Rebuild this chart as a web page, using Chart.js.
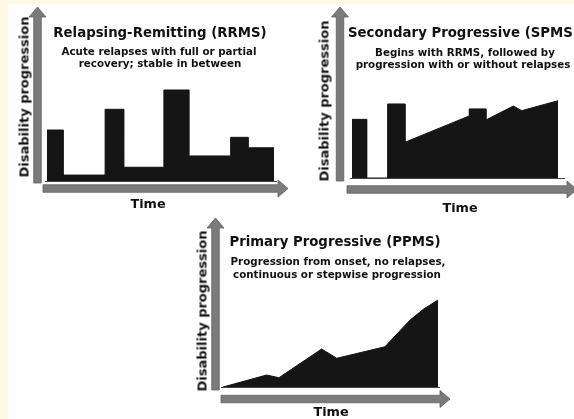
<!DOCTYPE html>
<html>
<head>
<meta charset="utf-8">
<script src="https://cdn.jsdelivr.net/npm/chart.js@4"></script>
<style>
  body { margin: 0; width: 574px; height: 419px; overflow: hidden; background: #fdf9e3; position: relative; font-family: "DejaVu Sans", Verdana, sans-serif; font-weight: bold; color: #111; }
  #paper { position: absolute; left: 8px; top: 4px; right: 0; bottom: 0; background: #fff; }
  canvas { position: absolute; left: 0; top: 0; }
  .t { position: absolute; white-space: nowrap; line-height: 1; transform: translate(-50%, -50%); }
  .title { font-size: 13.3px; }
  .sub { font-size: 10.3px; }
  .axis { font-size: 12.8px; }
  .ylab { font-size: 13px; transform: translate(-50%, -50%) rotate(-90deg); }
</style>
</head>
<body>
<div id="paper"></div>
<canvas id="rrms" width="574" height="419"></canvas>
<canvas id="spms" width="574" height="419"></canvas>
<canvas id="ppms" width="574" height="419"></canvas>

<!-- Relapsing-Remitting -->
<div class="t title" style="left:160px;top:33px">Relapsing-Remitting (RRMS)</div>
<div class="t sub" style="left:159px;top:51px">Acute relapses with full or partial</div>
<div class="t sub" style="left:160px;top:63px">recovery; stable in between</div>
<div class="t axis" style="left:148px;top:204px">Time</div>
<div class="t ylab" style="left:24px;top:97px">Disability progression</div>

<!-- Secondary Progressive -->
<div class="t title" style="left:348px;top:33px;transform:translate(0,-50%)">Secondary Progressive (SPMS)</div>
<div class="t sub" style="left:465px;top:52px">Begins with RRMS, followed by</div>
<div class="t sub" style="left:463px;top:64px">progression with or without relapses</div>
<div class="t axis" style="left:460px;top:208px">Time</div>
<div class="t ylab" style="left:324px;top:101px">Disability progression</div>

<!-- Primary Progressive -->
<div class="t title" style="left:335px;top:242px">Primary Progressive (PPMS)</div>
<div class="t sub" style="left:338px;top:261px">Progression from onset, no relapses,</div>
<div class="t sub" style="left:337px;top:274px">continuous or stepwise progression</div>
<div class="t axis" style="left:331px;top:412px">Time</div>
<div class="t ylab" style="left:202px;top:311px">Disability progression</div>

<script>
// Disability level over time (0-100 scale)
const rrmsTime  = [0, 7.2, 25.6, 33.9, 51.5, 62.6, 80.9, 88.7, 100];
const rrmsLevel = [29.3, 3.4, 41.2, 7.9, 52.3, 14.4, 25.1, 19.1, 19.1];

const spmsTime  = [0, 7.1, 7.1, 17.3, 17.3, 25.7, 25.7, 56.9, 56.9, 65.0, 65.0, 78.3, 82.4, 100];
const spmsLevel = [34.3, 34.3, 0, 0, 43.3, 43.3, 20.9, 36.3, 40.4, 40.4, 33.9, 42.1, 39.4, 45.2];

const ppmsTime  = [0, 20.3, 26, 45.9, 52.9, 75.3, 87, 93.2, 100];
const ppmsLevel = [0, 7.1, 5.5, 22.5, 17.0, 23.8, 39.6, 46, 51.5];

const FILL = "#151515";
const ARROW = "#7b7b7b";

// gray axis arrows drawn around the chart area
const arrowPlugin = {
  id: "arrows",
  beforeDatasetsDraw(chart, args, o) {
    const { ctx, chartArea: a } = chart;
    const w = 7.5, head = 8.5, len = 10;
    ctx.save();
    ctx.fillStyle = ARROW;
    ctx.strokeStyle = "#5f5f5f";
    ctx.lineWidth = 0.8;

    // y arrow
    const yx = a.left - o.yGap;
    ctx.beginPath();
    ctx.moveTo(yx - w / 2, a.bottom + o.yEnd);
    ctx.lineTo(yx - w / 2, a.top + len);
    ctx.lineTo(yx - head, a.top + len);
    ctx.lineTo(yx, a.top);
    ctx.lineTo(yx + head, a.top + len);
    ctx.lineTo(yx + w / 2, a.top + len);
    ctx.lineTo(yx + w / 2, a.bottom + o.yEnd);
    ctx.closePath();
    ctx.fill();
    ctx.stroke();

    // x arrow
    const xy = a.bottom + o.xGap;
    const tip = a.right + o.xTip;
    ctx.beginPath();
    ctx.moveTo(a.left - o.xStart, xy - w / 2);
    ctx.lineTo(tip - len, xy - w / 2);
    ctx.lineTo(tip - len, xy - head);
    ctx.lineTo(tip, xy);
    ctx.lineTo(tip - len, xy + head);
    ctx.lineTo(tip - len, xy + w / 2);
    ctx.lineTo(a.left - o.xStart, xy + w / 2);
    ctx.closePath();
    ctx.fill();
    ctx.stroke();

    // thin baseline
    ctx.strokeStyle = "#444";
    ctx.lineWidth = 1;
    ctx.beginPath();
    ctx.moveTo(a.left - 2, a.bottom + 0.5);
    ctx.lineTo(a.right + o.baseExt, a.bottom + 0.5);
    ctx.stroke();
    ctx.restore();
  }
};

function makeChart(id, times, levels, area, arrows, stepped) {
  const points = times.map((t, i) => ({ x: t, y: levels[i] }));
  return new Chart(document.getElementById(id), {
    type: "line",
    data: {
      datasets: [{
        data: points,
        stepped: stepped,
        fill: "origin",
        backgroundColor: FILL,
        borderColor: FILL,
        borderWidth: 1,
        pointRadius: 0,
        tension: 0
      }]
    },
    options: {
      responsive: false,
      animation: false,
      devicePixelRatio: 1,
      layout: {
        padding: { left: area.left, top: area.top, right: 574 - area.right, bottom: 419 - area.bottom }
      },
      plugins: { legend: { display: false }, tooltip: { enabled: false }, arrows: arrows },
      scales: {
        x: { type: "linear", min: 0, max: 100, display: false },
        y: { min: 0, max: 100, display: false }
      }
    },
    plugins: [arrowPlugin]
  });
}

makeChart("rrms", rrmsTime, rrmsLevel,
  { left: 47, right: 274, top: 7, bottom: 181 },
  { yGap: 9.5, yEnd: 2, xGap: 7.5, xStart: 4, xTip: 14, baseExt: 3 }, true);

makeChart("spms", spmsTime, spmsLevel,
  { left: 352, right: 558, top: 7, bottom: 178 },
  { yGap: 12, yEnd: 3, xGap: 11.5, xStart: 5, xTip: 19, baseExt: 7 }, false);

makeChart("ppms", ppmsTime, ppmsLevel,
  { left: 223, right: 438, top: 218, bottom: 387 },
  { yGap: 7.5, yEnd: 3, xGap: 12, xStart: 2, xTip: 12, baseExt: 2 }, false);
</script>
</body>
</html>
